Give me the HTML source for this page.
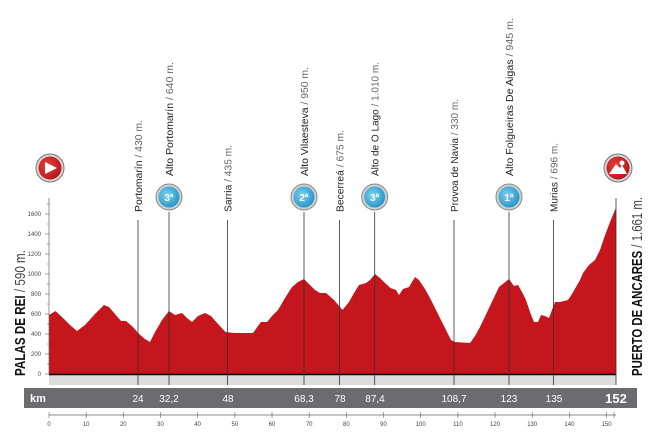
<!DOCTYPE html>
<html><head><meta charset="utf-8"><style>
html,body{margin:0;padding:0;background:#fff;}
svg{display:block;font-family:"Liberation Sans",sans-serif;}
</style></head><body>
<svg width="654" height="435" viewBox="0 0 654 435" xmlns="http://www.w3.org/2000/svg">
<defs>
<radialGradient id="blu" cx="0.4" cy="0.4" r="0.7"><stop offset="0" stop-color="#7fd0f0"/><stop offset="1" stop-color="#1a8fc4"/></radialGradient>
<radialGradient id="red" cx="0.4" cy="0.4" r="0.7"><stop offset="0" stop-color="#e8413c"/><stop offset="1" stop-color="#b0121a"/></radialGradient>
</defs>
<rect x="49" y="375" width="567" height="10" fill="#dcdcdc"/>
<path fill="#c4161c" d="M49,374 L49,315 L55.5,311 L63,318 L70,325 L77,331 L85,325 L95,314 L104,305 L109,307 L115,314 L121,321 L126,321 L133,327 L138,333 L145,339 L150,342 L154.5,333 L162,320 L169,311 L175,315 L182,313 L187,318 L192,322 L198,316 L205,313 L211,316 L218,324 L225.5,332 L234,333 L253,333 L258,326 L261,322 L267,322 L272,316 L278,310 L285,298 L292,287 L298,282 L304,279 L309,284 L315,290 L320,293 L326,293 L334,300 L342.5,310 L349,302 L354,293 L359,285 L366,283 L370,280 L375,274 L380,278 L385,283 L390.5,288 L396,290 L399,295 L403,289 L409,287 L415,277 L419,280 L425,289 L430,298 L440,318 L451,340 L455,342 L470,343 L475,336 L480,327 L490,306 L499,287 L504,283 L509,279 L514,286 L518,285 L522,292 L526,300 L530,312 L534,322 L538,322 L541,315 L545,316 L549,318 L552,310 L555,302 L560,302 L568,300 L572,294 L576,287 L580,280 L583,273 L589,265 L595,260 L600,250 L604,238 L610,222 L615,210 L616,208 L616,374 Z"/>
<line x1="49" y1="374.5" x2="616" y2="374.5" stroke="#000" stroke-width="1.6"/>
<line x1="49" y1="198" x2="49" y2="374" stroke="#666" stroke-width="0.7"/>
<g stroke="#666" stroke-width="0.6">
<line x1="45" y1="374" x2="49" y2="374"/><line x1="45" y1="354" x2="49" y2="354"/><line x1="45" y1="334" x2="49" y2="334"/><line x1="45" y1="314" x2="49" y2="314"/><line x1="45" y1="294" x2="49" y2="294"/><line x1="45" y1="274" x2="49" y2="274"/><line x1="45" y1="254" x2="49" y2="254"/><line x1="45" y1="234" x2="49" y2="234"/><line x1="45" y1="214" x2="49" y2="214"/>
<line x1="47" y1="364" x2="49" y2="364"/><line x1="47" y1="344" x2="49" y2="344"/><line x1="47" y1="324" x2="49" y2="324"/><line x1="47" y1="304" x2="49" y2="304"/><line x1="47" y1="284" x2="49" y2="284"/><line x1="47" y1="264" x2="49" y2="264"/><line x1="47" y1="244" x2="49" y2="244"/><line x1="47" y1="224" x2="49" y2="224"/><line x1="47" y1="204" x2="49" y2="204"/>
</g>
<g font-size="6" fill="#444" text-anchor="end">
<text x="41" y="376">0</text><text x="41" y="356">200</text><text x="41" y="336">400</text><text x="41" y="316">600</text><text x="41" y="296">800</text><text x="41" y="276">1000</text><text x="41" y="256">1200</text><text x="41" y="236">1400</text><text x="41" y="216">1600</text>
</g>
<g stroke="#333" stroke-width="0.8">
<line x1="138" y1="220" x2="138" y2="385"/><line x1="169" y1="212" x2="169" y2="385"/><line x1="227.6" y1="220" x2="227.6" y2="385"/><line x1="304" y1="212" x2="304" y2="385"/><line x1="339.6" y1="220" x2="339.6" y2="385"/><line x1="374.7" y1="212" x2="374.7" y2="385"/><line x1="454" y1="220" x2="454" y2="385"/><line x1="509" y1="212" x2="509" y2="385"/><line x1="553.5" y1="220" x2="553.5" y2="385"/>
<line x1="616" y1="198" x2="616" y2="385"/>
</g>
<g font-size="10" fill="#222">
<text transform="translate(142,212) rotate(-90)" textLength="92" lengthAdjust="spacingAndGlyphs">Portomarín <tspan fill="#666">/ 430 m.</tspan></text>
<text transform="translate(173,176) rotate(-90)" textLength="114" lengthAdjust="spacingAndGlyphs">Alto Portomarín <tspan fill="#666">/ 640 m.</tspan></text>
<text transform="translate(231.6,212) rotate(-90)" textLength="67" lengthAdjust="spacingAndGlyphs">Sarria <tspan fill="#666">/ 435 m.</tspan></text>
<text transform="translate(308,176) rotate(-90)" textLength="109" lengthAdjust="spacingAndGlyphs">Alto Vilaesteva <tspan fill="#666">/ 950 m.</tspan></text>
<text transform="translate(343.6,212) rotate(-90)" textLength="82" lengthAdjust="spacingAndGlyphs">Becerreá <tspan fill="#666">/ 675 m.</tspan></text>
<text transform="translate(378.7,176) rotate(-90)" textLength="114" lengthAdjust="spacingAndGlyphs">Alto de O Lago <tspan fill="#666">/ 1.010 m.</tspan></text>
<text transform="translate(458,212) rotate(-90)" textLength="113" lengthAdjust="spacingAndGlyphs">Provoa de Navia <tspan fill="#666">/ 330 m.</tspan></text>
<text transform="translate(513,176) rotate(-90)" textLength="158" lengthAdjust="spacingAndGlyphs">Alto Folgueiras De Aigas <tspan fill="#666">/ 945 m.</tspan></text>
<text transform="translate(557.5,212) rotate(-90)" textLength="69" lengthAdjust="spacingAndGlyphs">Murias <tspan fill="#666">/ 696 m.</tspan></text>
</g>
<g font-size="10" font-weight="bold" fill="#fff" text-anchor="middle">
<g transform="translate(169,197)"><circle r="13" fill="#cfcfcf" stroke="#888" stroke-width="1"/><circle r="10.5" fill="url(#blu)"/><text y="4">3ª</text></g>
<g transform="translate(304,197)"><circle r="13" fill="#cfcfcf" stroke="#888" stroke-width="1"/><circle r="10.5" fill="url(#blu)"/><text y="4">2ª</text></g>
<g transform="translate(374.7,197)"><circle r="13" fill="#cfcfcf" stroke="#888" stroke-width="1"/><circle r="10.5" fill="url(#blu)"/><text y="4">3ª</text></g>
<g transform="translate(509,197)"><circle r="13" fill="#cfcfcf" stroke="#888" stroke-width="1"/><circle r="10.5" fill="url(#blu)"/><text y="4">1ª</text></g>
</g>
<g transform="translate(50,168)"><circle r="14" fill="#d6d6d6" stroke="#777" stroke-width="1"/><circle r="11.5" fill="url(#red)"/><path d="M-5,-6 L7,0 L-5,6 Z" fill="#fff"/></g>
<g transform="translate(618,168)"><circle r="14" fill="#d6d6d6" stroke="#777" stroke-width="1"/><circle r="11.5" fill="url(#red)"/><path d="M-9,6 L-2,-4 L2,0 L4,-3 L9,6 Z" fill="#fff"/><circle cx="4" cy="-5" r="2.5" fill="#fff"/></g>
<text transform="translate(25,376) rotate(-90)" font-size="15" font-weight="bold" fill="#111" textLength="126" lengthAdjust="spacingAndGlyphs">PALAS DE REI <tspan font-weight="normal" fill="#444">/ 590 m.</tspan></text>
<text transform="translate(642,376) rotate(-90)" font-size="15" font-weight="bold" fill="#111" textLength="179" lengthAdjust="spacingAndGlyphs">PUERTO DE ANCARES <tspan font-weight="normal" fill="#444">/ 1.661 m.</tspan></text>
<rect x="24" y="388" width="613" height="20" fill="#6b6b70"/>
<g fill="#fff" font-size="10" text-anchor="middle">
<text x="38" y="402" font-weight="bold" font-size="11">km</text>
<text x="138" y="402">24</text><text x="169" y="402">32,2</text><text x="228" y="402">48</text><text x="304" y="402">68,3</text><text x="340" y="402">78</text><text x="375" y="402">87,4</text><text x="454" y="402">108,7</text><text x="509" y="402">123</text><text x="554" y="402">135</text>
<text x="616" y="403" font-weight="bold" font-size="13">152</text>
</g>
<line x1="49" y1="415" x2="616" y2="415" stroke="#666" stroke-width="0.7"/>
<g stroke="#666" stroke-width="0.6">
<line x1="49" y1="412" x2="49" y2="418"/><line x1="86.2" y1="412" x2="86.2" y2="418"/><line x1="123.3" y1="412" x2="123.3" y2="418"/><line x1="160.5" y1="412" x2="160.5" y2="418"/><line x1="197.7" y1="412" x2="197.7" y2="418"/><line x1="234.9" y1="412" x2="234.9" y2="418"/><line x1="272" y1="412" x2="272" y2="418"/><line x1="309.2" y1="412" x2="309.2" y2="418"/><line x1="346.4" y1="412" x2="346.4" y2="418"/><line x1="383.5" y1="412" x2="383.5" y2="418"/><line x1="420.7" y1="412" x2="420.7" y2="418"/><line x1="457.9" y1="412" x2="457.9" y2="418"/><line x1="495" y1="412" x2="495" y2="418"/><line x1="532.2" y1="412" x2="532.2" y2="418"/><line x1="569.4" y1="412" x2="569.4" y2="418"/><line x1="606.6" y1="412" x2="606.6" y2="418"/><line x1="614" y1="412" x2="614" y2="418"/>
</g>
<g font-size="6" fill="#444" text-anchor="middle">
<text x="49" y="426">0</text><text x="86.2" y="426">10</text><text x="123.3" y="426">20</text><text x="160.5" y="426">30</text><text x="197.7" y="426">40</text><text x="234.9" y="426">50</text><text x="272" y="426">60</text><text x="309.2" y="426">70</text><text x="346.4" y="426">80</text><text x="383.5" y="426">90</text><text x="420.7" y="426">100</text><text x="457.9" y="426">110</text><text x="495" y="426">120</text><text x="532.2" y="426">130</text><text x="569.4" y="426">140</text><text x="606.6" y="426">150</text>
</g>
</svg>
</body></html>
